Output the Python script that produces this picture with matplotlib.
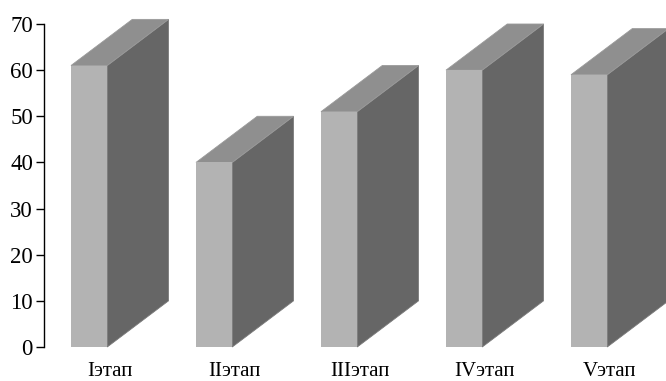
import matplotlib.pyplot as plt
from matplotlib.patches import Polygon

stages = ["Iэтап", "IIэтап", "IIIэтап", "IVэтап", "Vэтап"]
values = [61, 40, 51, 60, 59]
y_ticks = [0, 10, 20, 30, 40, 50, 60, 70]

front_color = "#b3b3b3"
side_color = "#666666"
top_color = "#8f8f8f"

bar_w = 0.29   # front face width, category units
dx = 0.49      # depth offset to the right
dy = 10        # depth offset upwards, data units

plt.rcParams["font.family"] = ["Liberation Serif", "DejaVu Serif"]

fig = plt.figure(figsize=(6.66, 3.81), dpi=100)
ax = fig.add_axes([44 / 666, 34 / 381, 622 / 666, 323 / 381])

xs = list(range(len(values)))
ax.bar(xs, values, width=bar_w, align="edge", color=front_color,
       linewidth=0, zorder=3, clip_on=False)

for x, v in zip(xs, values):
    side = [(x + bar_w, 0), (x + bar_w + dx, dy),
            (x + bar_w + dx, v + dy), (x + bar_w, v)]
    top = [(x, v), (x + dx, v + dy), (x + bar_w + dx, v + dy), (x + bar_w, v)]
    ax.add_patch(Polygon(side, closed=True, facecolor=side_color,
                         edgecolor="#7a7a7a", linewidth=0.6, zorder=2, clip_on=False))
    ax.add_patch(Polygon(top, closed=True, facecolor=top_color,
                         edgecolor="#9a9a9a", linewidth=0.6, zorder=2, clip_on=False))

ax.set_xlim(-0.216, 4.76)
ax.set_ylim(0, 70)
ax.set_yticks(y_ticks)
ax.set_xticks([x + 0.31 for x in xs])
ax.set_xticklabels(stages, fontsize=15)

ax.tick_params(axis="y", labelsize=16.5, length=6, width=1, pad=2, direction="out")
ax.tick_params(axis="x", length=0, pad=11)

for side_name in ["top", "right", "bottom"]:
    ax.spines[side_name].set_visible(False)
ax.spines["left"].set_linewidth(1)

fig.savefig("out.png", dpi=100)
